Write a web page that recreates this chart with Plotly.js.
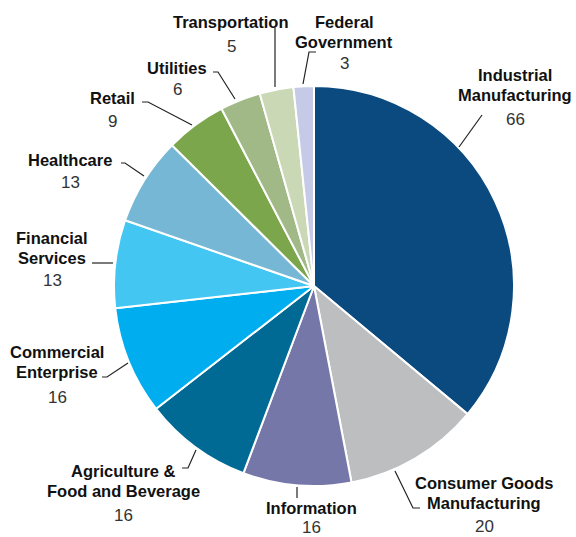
<!DOCTYPE html>
<html>
<head>
<meta charset="utf-8">
<script src="https://cdn.plot.ly/plotly-3.0.1.min.js"></script>
<style>html,body{margin:0;padding:0;background:#fff;}#chart{width:576px;height:537px;}</style>
</head>
<body>
<div id="chart"></div>
<script>
// ---- data ----
const categories = ["Industrial Manufacturing", "Consumer Goods Manufacturing", "Information",
  "Agriculture & Food and Beverage", "Commercial Enterprise", "Financial Services", "Healthcare",
  "Retail", "Utilities", "Transportation", "Federal Government"];
const values = [66, 20, 16, 16, 16, 13, 13, 9, 6, 5, 3];
const displayNames = ["Industrial<br>Manufacturing", "Consumer Goods<br>Manufacturing", "Information",
  "Agriculture &<br>Food and Beverage", "Commercial<br>Enterprise", "Financial<br>Services", "Healthcare",
  "Retail", "Utilities", "Transportation", "Federal<br>Government"];
const colors = ["#0b4a7f", "#bdbec0", "#7677a9", "#006a95", "#00aeef", "#43c6f2", "#76b7d6",
  "#7ba64b", "#a0b987", "#cad8b5", "#c5cbe6"];

// ---- label layout (pixel positions) ----
const W = 576, H = 537;
const labelPos = [
  {x: 515, y: 75,  vy: 120, line: [[482,115],[459,147]]},
  {x: 484, y: 483, vy: 526, line: [[420,508],[413,508],[395,471]]},
  {x: 311, y: 508, vy: 527, line: [[297,487],[297,498]]},
  {x: 123, y: 471, vy: 515, line: [[182,468],[188,468],[196,450]]},
  {x: 57,  y: 352, vy: 397, line: [[102,377],[107,377],[128,363]]},
  {x: 52,  y: 238, vy: 280, line: [[92,263],[113,263]]},
  {x: 70,  y: 160, vy: 183, line: [[121,163],[125,163],[144,176]]},
  {x: 112, y: 98,  vy: 122, line: [[142,102],[148,102],[192,125]]},
  {x: 177, y: 68,  vy: 90,  line: [[213,72],[218,72],[235,99]]},
  {x: 231, y: 22,  vy: 46,  line: [[275,28],[275,87]]},
  {x: 344, y: 22,  vy: 64,  line: [[316,52],[309,52],[303,84]]}
];
const px = x => x / W, py = y => 1 - y / H;

const FONT = '"Liberation Sans", Arial, sans-serif';
const annotations = [];
const shapes = [];
displayNames.forEach((name, i) => {
  const p = labelPos[i];
  name.split("<br>").forEach((ln, k) => {
    annotations.push({xref: "paper", yref: "paper", x: px(p.x), y: py(p.y + k * 20),
      text: "<b>" + ln + "</b>", showarrow: false, xanchor: "center", yanchor: "middle",
      font: {family: FONT, size: 16.5, color: "#111"}});
  });
  annotations.push({xref: "paper", yref: "paper", x: px(p.x), y: py(p.vy),
    text: String(values[i]), showarrow: false, xanchor: "center", yanchor: "middle",
    font: {family: FONT, size: 17, color: "#333"}});
  const path = p.line.map((pt, k) => (k ? "L" : "M") + px(pt[0]) + "," + py(pt[1])).join(" ");
  shapes.push({type: "path", xref: "paper", yref: "paper", path: path,
    line: {color: "#222", width: 1.2}});
});

const trace = {
  type: "pie",
  labels: categories,
  values: values,
  sort: false,
  direction: "clockwise",
  rotation: 0,
  textinfo: "none",
  hoverinfo: "skip",
  marker: {colors: colors, line: {color: "#ffffff", width: 2}},
  domain: {x: [114 / W, 514 / W], y: [1 - 486 / H, 1 - 86 / H]},
  showlegend: false
};

Plotly.newPlot("chart", [trace], {
  width: W, height: H,
  margin: {l: 0, r: 0, t: 0, b: 0},
  paper_bgcolor: "#fff",
  showlegend: false,
  annotations: annotations,
  shapes: shapes
}, {displayModeBar: false, staticPlot: true});
</script>
</body>
</html>
